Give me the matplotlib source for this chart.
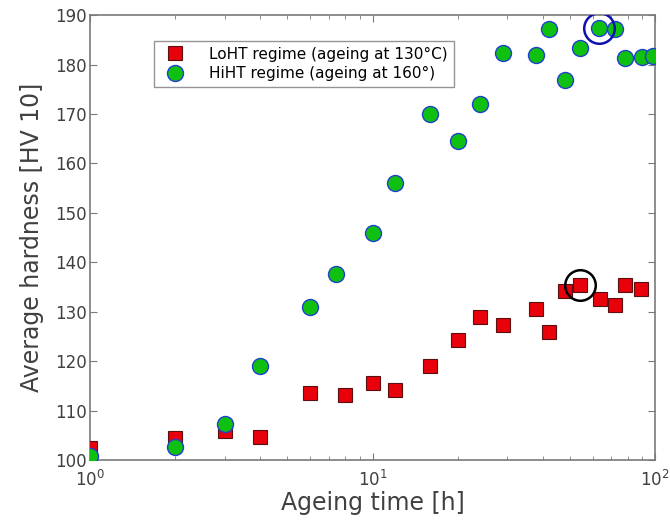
import matplotlib

matplotlib.use("Agg")
import matplotlib.pyplot as plt
from matplotlib.ticker import LogLocator, NullFormatter

# ageing time [h] and hardness [HV 10]
LOHT_TIME = [1, 2, 3, 4, 6, 8, 10, 12, 16, 20, 24, 29, 38, 42, 48, 54, 64, 72, 78, 89]
LOHT_HV = [102.5, 104.4, 105.8, 104.7, 113.6, 113.2, 115.5, 114.2, 119.0, 124.3,
           129.0, 127.4, 130.5, 126.0, 134.1, 135.4, 132.6, 131.3, 135.5, 134.5]
HIHT_TIME = [1, 2, 3, 4, 6, 7.4, 10, 12, 16, 20, 24, 29, 38, 42, 48, 54, 63, 72, 78, 90, 98]
HIHT_HV = [100.9, 102.6, 107.2, 119.0, 130.9, 137.6, 146.0, 156.0, 170.0, 164.6,
           172.0, 182.3, 182.0, 187.1, 176.9, 183.3, 187.4, 187.1, 181.4, 181.6, 181.7]

# highlighted peak points
PEAK_LOHT = (54, 135.4)
PEAK_HIHT = (63, 187.4)

fig = plt.figure(figsize=(6.7, 5.21), dpi=100)
ax = fig.add_axes([0.134, 0.117, 0.844, 0.854])

ax.plot(LOHT_TIME, LOHT_HV, "s", ms=10.5, mfc="#e8000b", mec="#5a1010", mew=0.8,
        label="LoHT regime (ageing at 130°C)", zorder=3)
ax.plot(HIHT_TIME, HIHT_HV, "o", ms=11.5, mfc="#10c010", mec="#2040d0", mew=1.0,
        label="HiHT regime (ageing at 160°)", zorder=3)

ax.plot(*PEAK_LOHT, "o", ms=22, mfc="none", mec="black", mew=1.8, zorder=4)
ax.plot(*PEAK_HIHT, "o", ms=22, mfc="none", mec="#1010b0", mew=1.8, zorder=4)

ax.set_xscale("log")
ax.set_xlim(1, 100)
ax.set_ylim(100, 190)
ax.set_yticks(range(100, 191, 10))
ax.xaxis.set_minor_locator(LogLocator(base=10, subs=range(2, 10)))
ax.xaxis.set_minor_formatter(NullFormatter())

gray = "#7a7a7a"
for s in ax.spines.values():
    s.set_color(gray)
    s.set_linewidth(1.2)
ax.tick_params(which="both", direction="in", top=True, right=True, color=gray,
               labelcolor="#404040", labelsize=12)
ax.tick_params(which="major", length=5)
ax.tick_params(which="minor", length=3)
ax.tick_params(axis="x", pad=7)
ax.tick_params(axis="y", pad=2)

ax.set_xlabel("Ageing time [h]", fontsize=17, color="#404040", labelpad=1)
ax.set_ylabel("Average hardness [HV 10]", fontsize=17, color="#404040", labelpad=8)

leg = ax.legend(loc="upper left", bbox_to_anchor=(0.1, 0.96), fontsize=11,
                frameon=True, fancybox=False, edgecolor=gray, borderpad=0.4,
                handletextpad=1.2, labelspacing=0.3)
leg.get_frame().set_linewidth(1.0)

fig.savefig("out.png", dpi=100)
